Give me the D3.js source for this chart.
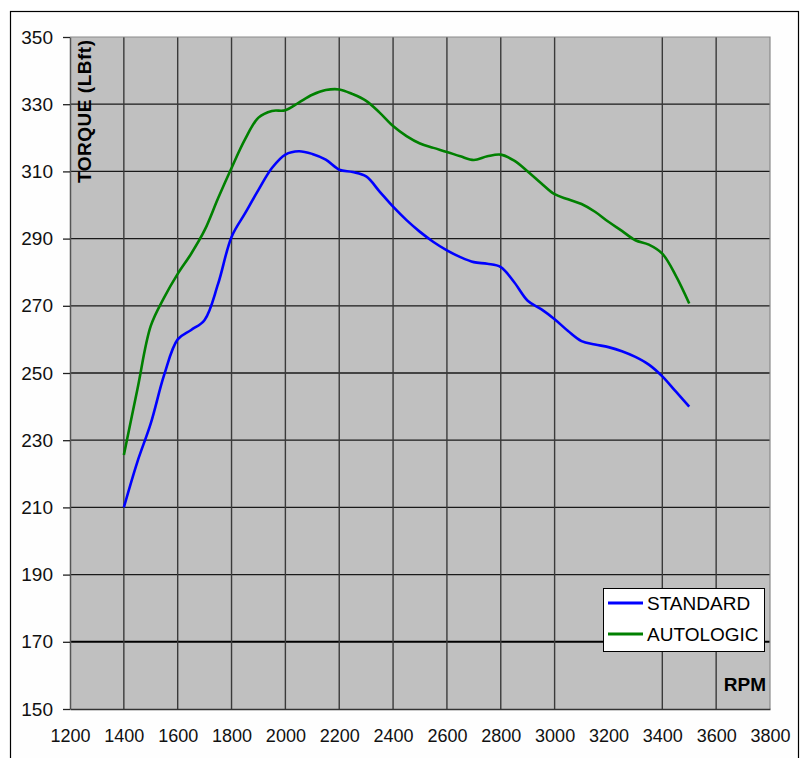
<!DOCTYPE html>
<html><head><meta charset="utf-8">
<script src="https://cdn.jsdelivr.net/npm/d3@7/dist/d3.min.js"></script>
<style>
html,body{margin:0;padding:0;background:#fff;}
svg{display:block;font-family:"Liberation Sans",Arial,sans-serif;}
</style></head>
<body>
<svg id="chart" width="807" height="758"></svg>
<script>
const rpm = [1400,1450,1500,1550,1600,1650,1700,1750,1800,1850,1900,1950,2000,2050,2100,2150,2200,2250,2300,2350,2400,2450,2500,2550,2600,2650,2700,2750,2800,2850,2900,2950,3000,3050,3100,3150,3200,3250,3300,3350,3400,3450,3500];
const standard = [210,223.5,235,249.5,260,262.8,265.8,276.5,290.5,297.5,304.5,311,315,316,315.2,313.5,310.5,309.8,308.5,304,299.5,295.5,292,289,286.5,284.5,283,282.5,281.5,277,271.5,269,266,262.5,259.5,258.5,257.7,256.5,254.8,252.5,249,244.5,240];
const autologic = [225.6,245,264,272.5,279.5,285.5,292.5,302,311,319.5,326,328,328.2,330.5,332.8,334.2,334.4,333,331,327.5,323.5,320.5,318.3,317,315.8,314.5,313.4,314.5,315,313.2,310,306.5,303.2,301.7,300.3,298,295,292.3,289.5,288.2,285.5,279,270.7];
const seriesNames = ["STANDARD","AUTOLOGIC"];
const seriesColors = ["#0000ff","#008000"];
const xTicks = [1200,1400,1600,1800,2000,2200,2400,2600,2800,3000,3200,3400,3600,3800];
const xGrid = [1400,1600,1800,2000,2200,2400,2600,2800,3000,3400,3600];
const yTicks = [150,170,190,210,230,250,270,290,310,330,350];
const yTitle = "TORQUE (LBft)";
const xTitle = "RPM";

const svg = d3.select("#chart");
// outer frame
svg.append("rect").attr("x",10.5).attr("y",11.5).attr("width",788).attr("height",760)
  .attr("fill","#fefefe").attr("stroke","#000").attr("stroke-width",1.2);

const L=70, R=770, T=37, B=709;
const x = d3.scaleLinear().domain([1200,3800]).range([L,R]);
const y = d3.scaleLinear().domain([150,350]).range([B,T]);

svg.append("rect").attr("x",L).attr("y",T).attr("width",R-L).attr("height",B-T).attr("fill","#c0c0c0");

// horizontal grid
svg.append("g").selectAll("line").data(yTicks.filter(v=>v!==150 && v!==350)).join("line")
  .attr("x1",L).attr("x2",R).attr("y1",d=>y(d)).attr("y2",d=>y(d))
  .attr("stroke",d=>d===170?"#000":"#1a1a1a").attr("stroke-width",d=>d===170?2:1.3);
// vertical grid
svg.append("g").selectAll("line").data(xGrid).join("line")
  .attr("x1",d=>x(d)).attr("x2",d=>x(d)).attr("y1",T).attr("y2",B)
  .attr("stroke","#3a3a3a").attr("stroke-width",1.4);
// plot border top/right
svg.append("path").attr("d",`M${L},${T}H${R}V${B}`).attr("fill","none").attr("stroke","#8a8a8a").attr("stroke-width",1.2);

// y axis
const yAxis = svg.append("g").attr("transform",`translate(${L},0)`)
  .call(d3.axisLeft(y).tickValues(yTicks).tickSize(7).tickPadding(10).tickSizeOuter(0));
yAxis.select(".domain").attr("stroke","#555").attr("stroke-width",1.5);
yAxis.selectAll(".tick line").attr("stroke","#222").attr("stroke-width",1.3);
yAxis.selectAll("text").attr("font-size",19).attr("fill","#111").attr("font-family","Liberation Sans, Arial, sans-serif");

// x axis
const xAxis = svg.append("g").attr("transform",`translate(0,${B})`)
  .call(d3.axisBottom(x).tickValues(xTicks).tickFormat(d3.format("d")).tickSize(0).tickPadding(20).tickSizeOuter(0));
xAxis.select(".domain").attr("stroke","#333").attr("stroke-width",1.5);
xAxis.selectAll("text").attr("font-size",18).attr("fill","#111").attr("font-family","Liberation Sans, Arial, sans-serif");

// lines
const line = d3.line().x((d,i)=>x(rpm[i])).y(d=>y(d)).curve(d3.curveCatmullRom.alpha(0.5));
[standard, autologic].forEach((s,k)=>{
  svg.append("path").attr("d",line(s)).attr("fill","none")
    .attr("stroke",seriesColors[k]).attr("stroke-width",2.6).attr("stroke-linejoin","round");
});

// titles
svg.append("text").attr("transform","translate(91,183) rotate(-90)")
  .attr("font-size",19).attr("font-weight","bold").attr("textLength",143).attr("lengthAdjust","spacing")
  .text(yTitle);
svg.append("text").attr("x",766).attr("y",691).attr("text-anchor","end")
  .attr("font-size",19).attr("font-weight","bold").text(xTitle);

// legend
const lg = svg.append("g");
lg.append("rect").attr("x",603.5).attr("y",588.5).attr("width",161).attr("height",63)
  .attr("fill","#fff").attr("stroke","#000").attr("stroke-width",1);
seriesNames.forEach((n,k)=>{
  const yy = 603 + k*31;
  lg.append("line").attr("x1",608).attr("x2",643).attr("y1",yy).attr("y2",yy)
    .attr("stroke",seriesColors[k]).attr("stroke-width",3);
  lg.append("text").attr("x",647).attr("y",yy+7).attr("font-size",19).text(n);
});
</script>
</body></html>
